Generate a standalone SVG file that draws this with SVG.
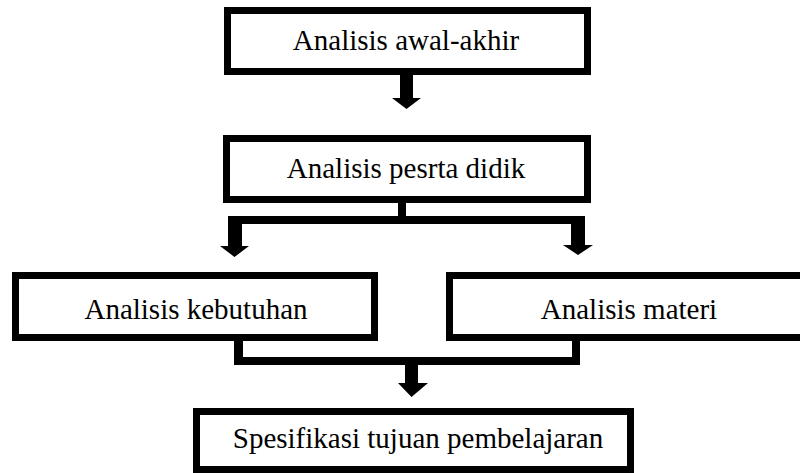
<svg xmlns="http://www.w3.org/2000/svg" width="800" height="473" viewBox="0 0 800 473">
  <style>
    .box { fill: #ffffff; stroke: #000000; stroke-width: 7; }
    .lbl { font-family: 'Liberation Serif', 'Times New Roman', Times, serif; font-size: 29px; fill: #000000; text-anchor: middle; }
    .conn { fill: #000000; stroke: none; }
  </style>
  <rect width="800" height="473" fill="#ffffff"/>
  <g id="connectors">
    <polygon class="conn" points="400,75 413,75 413,98 421,98 406.5,109 392,98 400,98"/>
    <polygon class="conn" points="398,203 406,203 406,216 585,216 585,245 593,245 578,255 563,245 571,245 571,224 242,224 242,246 249,246 234.5,257 220,246 228,246 228,216 398,216"/>
    <polygon class="conn" points="234,341 243,341 243,357 572,357 572,341 580,341 580,365 418,365 418,383 428,383 411.5,397 398,383 405,383 405,365 234,365"/>
  </g>
  <g id="node-awal-akhir">
    <rect class="box" x="227.5" y="10.5" width="360" height="61"/>
    <text class="lbl" x="406" y="50">Analisis awal-akhir</text>
  </g>
  <g id="node-peserta-didik">
    <rect class="box" x="226.5" y="138.5" width="361" height="61"/>
    <text class="lbl" x="406" y="178">Analisis pesrta didik</text>
  </g>
  <g id="node-kebutuhan">
    <rect class="box" x="15.5" y="275.5" width="359" height="62"/>
    <text class="lbl" x="196" y="319">Analisis kebutuhan</text>
  </g>
  <g id="node-materi">
    <rect class="box" x="449.5" y="275.5" width="360" height="62"/>
    <text class="lbl" x="629" y="319">Analisis materi</text>
  </g>
  <g id="node-spesifikasi">
    <rect class="box" x="196.5" y="411.5" width="434" height="58"/>
    <text class="lbl" x="418" y="448">Spesifikasi tujuan pembelajaran</text>
  </g>
</svg>
